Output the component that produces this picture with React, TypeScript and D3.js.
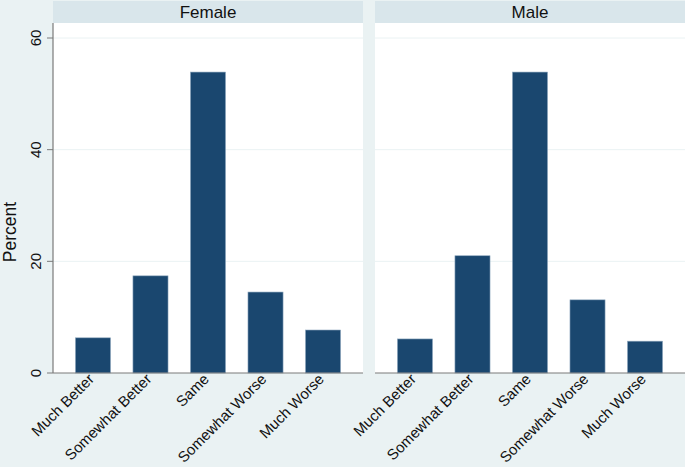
import React from 'react'
import * as d3 from 'd3'

const categories = ['Much Better', 'Somewhat Better', 'Same', 'Somewhat Worse', 'Much Worse']
const panels = ['Female', 'Male']
const femaleValues = [6.3, 17.4, 53.9, 14.5, 7.7]
const maleValues = [6.1, 21.0, 53.9, 13.1, 5.7]
const yTicks = [0, 20, 40, 60]

const width = 685
const height = 467
const bg = '#EAF2F3'
const stripFill = '#D9E6EB'
const barFill = '#1A476F'
const font = "'Liberation Sans', Arial, sans-serif"

const App = () => {
    const plotTop = 23
    const plotBottom = 373
    const panelX = [[53, 363], [375, 685]]

    const y = d3.scaleLinear().domain([0, 60]).range([plotBottom, 38])

    const series = [femaleValues, maleValues]

    return (
        <svg width={width} height={height} style={{ position: 'absolute', left: 0, top: 0 }}>
            <rect x={0} y={0} width={width} height={height} fill={bg} />
            {panels.map((name, pi) => {
                const [x0, x1] = panelX[pi]
                const x = d3.scaleBand<string>()
                    .domain(categories)
                    .range([x0, x1])
                    .paddingInner(0.39)
                    .paddingOuter(0.39)
                const values = series[pi]
                return (
                    <g key={name}>
                        <rect x={x0} y={1} width={x1 - x0} height={plotTop - 1} fill={stripFill} />
                        <text x={(x0 + x1) / 2} y={18} textAnchor="middle" fontFamily={font}
                              fontSize={17} fill="#111">{name}</text>
                        <rect x={x0} y={plotTop} width={x1 - x0} height={plotBottom - plotTop} fill="white" />
                        {yTicks.filter(t => t > 0).map(t => (
                            <line key={t} x1={x0} x2={x1} y1={y(t)} y2={y(t)} stroke={bg} strokeWidth={1} />
                        ))}
                        {categories.map((c, i) => (
                            <rect key={c} x={x(c)} y={y(values[i])} width={x.bandwidth()}
                                  height={y(0) - y(values[i])} fill={barFill}
                                  stroke="#8FA8BE" strokeWidth={0.6} />
                        ))}
                        <line x1={x0} x2={x1} y1={plotBottom} y2={plotBottom} stroke="#7a7a7a" strokeWidth={1.2} />
                        {categories.map(c => {
                            const cx = (x(c) as number) + x.bandwidth() / 2 + 2
                            const cy = plotBottom + 7
                            return (
                                <text key={c} transform={`translate(${cx},${cy}) rotate(-45)`}
                                      textAnchor="end" fontFamily={font} fontSize={15} fill="#111">{c}</text>
                            )
                        })}
                    </g>
                )
            })}
            {/* y axis on the left panel only */}
            <line x1={53} x2={53} y1={plotTop} y2={plotBottom} stroke="#7a7a7a" strokeWidth={1.2} />
            {yTicks.map(t => (
                <g key={t}>
                    <line x1={47} x2={53} y1={y(t)} y2={y(t)} stroke="#7a7a7a" strokeWidth={1} />
                    <text transform={`translate(41,${y(t)}) rotate(-90)`} textAnchor="middle"
                          fontFamily={font} fontSize={15} fill="#111">{t}</text>
                </g>
            ))}
            <text transform={`translate(16,232) rotate(-90)`} textAnchor="middle"
                  fontFamily={font} fontSize={17.5} fill="#111">Percent</text>
        </svg>
    )
}

export default App
